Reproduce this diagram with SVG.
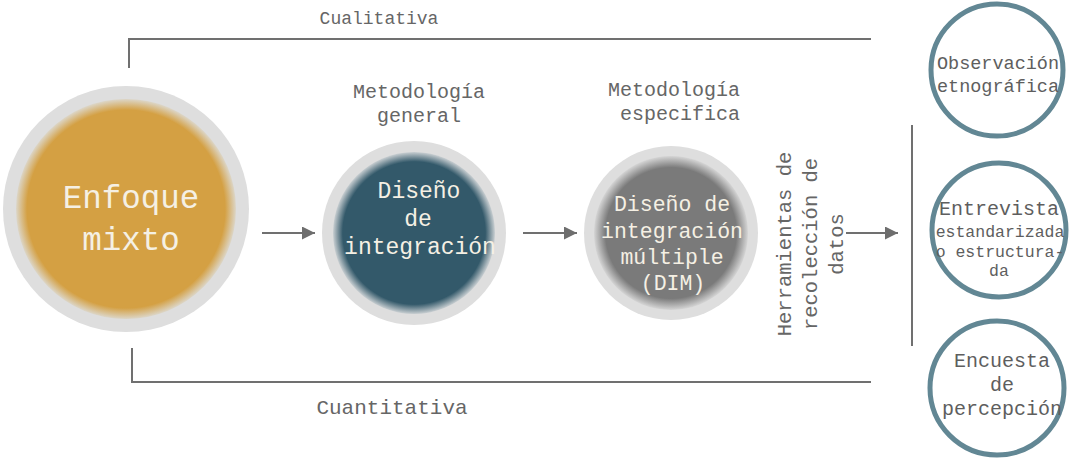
<svg xmlns="http://www.w3.org/2000/svg" width="1070" height="461" viewBox="0 0 1070 461">
<defs>
<radialGradient id="gOrange"><stop offset="0.9" stop-color="#D4A043"/><stop offset="1" stop-color="#DCD6C8"/></radialGradient>
<radialGradient id="gTeal"><stop offset="0.88" stop-color="#33596A"/><stop offset="1" stop-color="#C9CFD2"/></radialGradient>
<radialGradient id="gGray"><stop offset="0.85" stop-color="#7A7A7A"/><stop offset="1" stop-color="#D5D5D5"/></radialGradient>
<marker id="arr" viewBox="0 0 10 10" refX="10" refY="5" markerWidth="6.5" markerHeight="6.5" markerUnits="strokeWidth" orient="auto"><path d="M0,0 L10,5 L0,10 Z" fill="#6E6E6E"/></marker>
</defs>
<style>
text{font-family:"Liberation Mono","Courier New",monospace;text-anchor:middle}
.lbl{fill:#666666}
.in{fill:#F5F0E4}
.rt{fill:#5E5E5E}
.ln{stroke:#707070;stroke-width:2;fill:none}
.ring{fill:#DEDEDE}
.out{fill:#FFFFFF;stroke:#628794;stroke-width:5}
</style>
<rect width="1070" height="461" fill="#FFFFFF"/>
<g id="connectors">
<polyline class="ln" points="129,68 129,39 871,39"/>
<polyline class="ln" points="132,348 132,382 871,382"/>
<line class="ln" x1="262" y1="233" x2="315" y2="233" marker-end="url(#arr)"/>
<line class="ln" x1="523" y1="233" x2="577" y2="233" marker-end="url(#arr)"/>
<line class="ln" x1="846" y1="233" x2="898" y2="233" marker-end="url(#arr)"/>
<line class="ln" x1="912" y1="125" x2="912" y2="346"/>
</g>
<g id="label-cualitativa"><text class="lbl" x="379" y="24" font-size="18">Cualitativa</text></g>
<g id="label-cuantitativa"><text class="lbl" x="392" y="414" font-size="21">Cuantitativa</text></g>
<g id="label-metodologia-general"><text class="lbl" x="419" y="98" font-size="20">Metodología</text><text class="lbl" x="419" y="122" font-size="20">general</text></g>
<g id="label-metodologia-especifica"><text class="lbl" x="674" y="96" font-size="20">Metodología</text><text class="lbl" x="680" y="120" font-size="20">especifica</text></g>
<g id="label-herramientas">
<text class="lbl" font-size="20.5" transform="translate(791,244) rotate(-90)">Herramientas de</text>
<text class="lbl" font-size="20.5" transform="translate(817,244) rotate(-90)">recolección de</text>
<text class="lbl" font-size="20.5" transform="translate(843,244) rotate(-90)">datos</text>
</g>
<g id="node-enfoque">
<circle class="ring" cx="126" cy="209" r="123"/>
<circle cx="126" cy="209" r="110" fill="url(#gOrange)"/>
<text class="in" x="131" y="208" font-size="32.5">Enfoque</text>
<text class="in" x="131" y="250" font-size="32.5">mixto</text>
</g>
<g id="node-diseno-integracion">
<circle class="ring" cx="414" cy="233" r="92"/>
<circle cx="414" cy="233" r="81" fill="url(#gTeal)"/>
<text class="in" x="419" y="198" font-size="23">Diseño</text>
<text class="in" x="418" y="226" font-size="23">de</text>
<text class="in" x="420" y="254" font-size="23">integración</text>
</g>
<g id="node-dim">
<circle class="ring" cx="671" cy="233" r="87"/>
<circle cx="671" cy="233" r="77" fill="url(#gGray)"/>
<text class="in" x="672" y="211" font-size="21.5">Diseño de</text>
<text class="in" x="672" y="238" font-size="21.5">integración</text>
<text class="in" x="672" y="264" font-size="21.5">múltiple</text>
<text class="in" x="673" y="290" font-size="21.5">(DIM)</text>
</g>
<g id="node-observacion">
<circle class="out" cx="997" cy="70" r="66"/>
<text class="rt" x="998" y="69" font-size="18.5">Observación</text>
<text class="rt" x="998" y="92" font-size="18.5">etnográfica</text>
</g>
<g id="node-entrevista">
<circle class="out" cx="999" cy="230" r="67"/>
<text class="rt" x="999" y="215" font-size="20">Entrevista</text>
<text class="rt" x="1000" y="237" font-size="16.5">estandarizada</text>
<text class="rt" x="1000" y="257" font-size="16.5">o estructura-</text>
<text class="rt" x="999" y="276" font-size="16.5">da</text>
</g>
<g id="node-encuesta">
<circle class="out" cx="997" cy="388" r="67"/>
<text class="rt" x="1002" y="367" font-size="20">Encuesta</text>
<text class="rt" x="1002" y="391" font-size="20">de</text>
<text class="rt" x="1002" y="415" font-size="20">percepción</text>
</g>
</svg>
